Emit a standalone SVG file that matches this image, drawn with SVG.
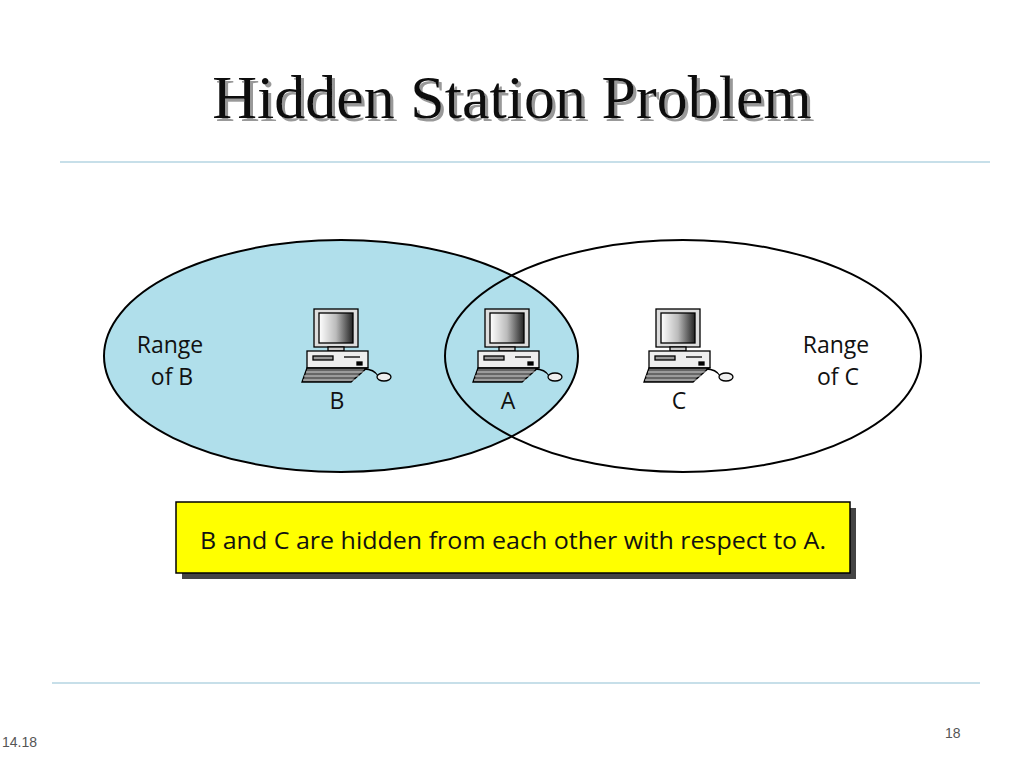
<svg xmlns="http://www.w3.org/2000/svg" width="1024" height="768" viewBox="0 0 1024 768">
<style>
.t{font-family:"Open Sans","Liberation Sans",sans-serif;fill:#111}
.lbl{font-size:23px;text-anchor:middle}
.ln{stroke:#8fc0d4;stroke-width:1.2}
</style>
<defs>
<linearGradient id="scr" x1="0" y1="0" x2="1" y2="0">
<stop offset="0" stop-color="#fff"/><stop offset="0.5" stop-color="#bbb"/><stop offset="1" stop-color="#222"/>
</linearGradient>
<filter id="sh" x="-5%" y="-20%" width="110%" height="140%">
<feOffset in="SourceAlpha" dx="3" dy="3" result="o"/>
<feFlood flood-color="#999"/><feComposite in2="o" operator="in" result="s"/>
<feMerge><feMergeNode in="s"/><feMergeNode in="SourceGraphic"/></feMerge>
</filter>
<g id="pc" stroke="#000" stroke-width="1.3">
<rect x="0" y="0" width="44" height="38" fill="#ddd"/>
<rect x="5" y="4" width="34" height="30" fill="url(#scr)"/>
<rect x="14" y="38" width="16" height="4" fill="#ccc"/>
<rect x="-7" y="42" width="61" height="17" fill="#eee"/>
<rect x="-1" y="47" width="20" height="4" fill="#999"/>
<line x1="30" y1="48" x2="46" y2="48"/>
<rect x="43" y="53" width="5" height="3" fill="#000"/>
<path d="M-12 73 L-7 59 L53 59 L37 73 Z" fill="#666"/>
<path d="M-8 63 L50 63 M-10 67 L45 67 M-11 71 L41 71" stroke="#eee" stroke-width="0.8"/>
<path d="M50 60 Q60 60 64 67" fill="none"/>
<ellipse cx="70" cy="68" rx="7" ry="4" fill="#eee"/>
</g>
</defs>
<rect width="1024" height="768" fill="#fff"/>
<g id="title" font-family="Liberation Serif,serif" font-size="62" text-anchor="middle">
<text x="512" y="118" fill="#111" filter="url(#sh)">Hidden Station Problem</text>
</g>
<line class="ln" x1="60" y1="162" x2="990" y2="162"/>
<line class="ln" x1="52" y1="683" x2="980" y2="683"/>
<g id="rangeB"><ellipse cx="341" cy="356" rx="237" ry="116" fill="#b0dfeb" stroke="#000" stroke-width="2"/>
<text class="t lbl" x="170" y="353">Range</text><text class="t lbl" x="172" y="385">of B</text></g>
<g id="rangeC"><ellipse cx="683" cy="356" rx="238" ry="116" fill="none" stroke="#000" stroke-width="2"/>
<text class="t lbl" x="836" y="353">Range</text><text class="t lbl" x="838" y="385">of C</text></g>
<g id="B"><use href="#pc" x="314" y="309"/><text class="t lbl" x="337" y="409">B</text></g>
<g id="A"><use href="#pc" x="485" y="309"/><text class="t lbl" x="508" y="409">A</text></g>
<g id="C"><use href="#pc" x="656" y="309"/><text class="t lbl" x="679" y="409">C</text></g>
<g id="note">
<rect x="182" y="508" width="674" height="71" fill="#444"/>
<rect x="176" y="502" width="674" height="71" fill="#ffff00" stroke="#000" stroke-width="1.5"/>
<text class="t" x="513" y="549" font-size="23" text-anchor="middle" textLength="626" lengthAdjust="spacingAndGlyphs">B and C are hidden from each other with respect to A.</text>
</g>
<text x="2" y="747" font-family="Liberation Sans,sans-serif" font-size="14" fill="#555">14.18</text>
<text x="945" y="738" font-family="Liberation Sans,sans-serif" font-size="14" fill="#555">18</text>
</svg>
